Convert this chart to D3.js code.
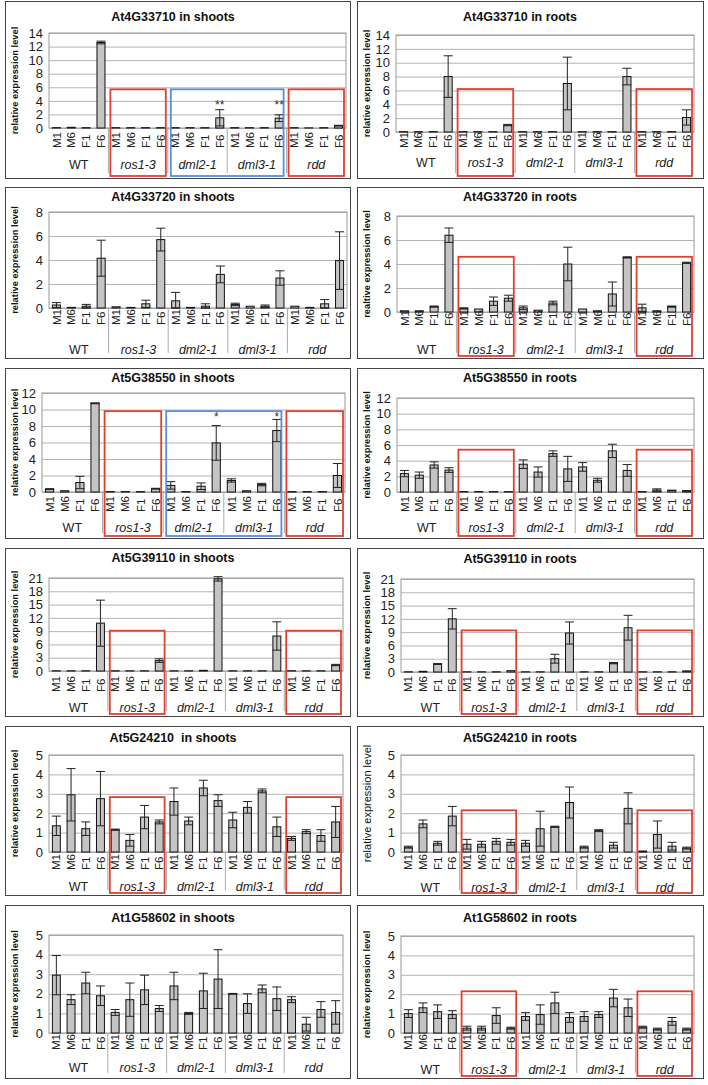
<!DOCTYPE html>
<html>
<head>
<meta charset="utf-8">
<script src="https://d3js.org/d3.v7.min.js"></script>
<style>
body { margin:0; background:#fff; }
svg { display:block; font-family:"Liberation Sans", Arial, sans-serif; }
text { white-space: pre; }
</style>
</head>
<body>
<svg id="chart" width="708" height="1085"></svg>
<script>
// CATEGORIES
var genotypes = ['WT', 'ros1-3', 'dml2-1', 'dml3-1', 'rdd'];
var tissues = ['M1', 'M6', 'F1', 'F6'];

var titles = ['At4G33710 in shoots', 'At4G33710 in roots', 'At4G33720 in shoots', 'At4G33720 in roots',
              'At5G38550 in shoots', 'At5G38550 in roots', 'At5G39110 in shoots', 'At5G39110 in roots',
              'At5G24210  in shoots', 'At5G24210 in roots', 'At1G58602 in shoots', 'At1G58602 in roots'];
var yLabels = ['relative expression level', 'relative expression level', 'relative expression level', 'realtive expression level',
               'relative expression level', 'relative expression level', 'relative expression level', 'relative expression level',
               'relative expression level', 'relative expression level', 'relative expression level', 'relative expression level'];

// y axis ticks
var yMax = [14, 14, 8, 8, 12, 12, 21, 21, 5, 5, 5, 5];
var yStep = [2, 2, 2, 2, 2, 2, 3, 3, 1, 1, 1, 1];

// means, order: WT M1 M6 F1 F6, ros1-3 ..., dml2-1 ..., dml3-1 ..., rdd ...
var at4g33710Shoots = [0.05,0.1,0.05,12.6, 0.05,0.05,0.05,0.05, 0.05,0.05,0.05,1.5, 0.05,0.05,0.05,1.45, 0.05,0.02,0.05,0.35];
var at4g33710ShootsErr = [0,0,0,0.2, 0,0,0,0, 0,0,0,1.2, 0,0,0,0.5, 0,0,0,0.05];
var at4g33710Roots = [0.05,0.05,0.05,8.0, 0.05,0.05,0.05,1.0, 0.05,0.05,0.05,7.0, 0.05,0.05,0.05,8.0, 0.05,0.05,0.05,2.1];
var at4g33710RootsErr = [0,0,0,3.0, 0,0,0,0.1, 0,0,0,3.8, 0,0,0,1.2, 0,0,0,1.1];
var at4g33720Shoots = [0.25,0.05,0.15,4.15, 0.1,0.05,0.35,5.7, 0.6,0.05,0.15,2.8, 0.3,0.15,0.15,2.5, 0.15,0.05,0.35,3.95];
var at4g33720ShootsErr = [0.2,0,0.15,1.5, 0,0,0.3,0.95, 0.7,0,0.2,0.7, 0.1,0,0.1,0.6, 0,0,0.35,2.4];
var at4g33720Roots = [0.1,0.1,0.45,6.4, 0.3,0.25,0.9,1.15, 0.35,0.15,0.75,4.0, 0.25,0.1,1.5,4.55, 0.35,0.1,0.45,4.1];
var at4g33720RootsErr = [0,0,0.05,0.6, 0.05,0,0.35,0.25, 0.15,0,0.15,1.4, 0,0,1.0,0.05, 0.3,0,0.05,0.05];
var at5g38550Shoots = [0.35,0.15,1.15,10.75, 0.05,0.05,0.05,0.4, 0.8,0.05,0.7,5.95, 1.4,0.15,0.9,7.45, 0.05,0.05,0.05,2.0];
var at5g38550ShootsErr = [0.05,0,0.75,0.05, 0,0,0,0.05, 0.45,0,0.4,2.1, 0.2,0,0.15,1.35, 0,0,0,1.45];
var at5g38550Roots = [2.35,2.15,3.45,2.8, 0.05,0.05,0.05,0.05, 3.55,2.55,4.9,2.95, 3.2,1.5,5.25,2.75, 0.05,0.25,0.2,0.15];
var at5g38550RootsErr = [0.4,0.4,0.4,0.3, 0,0,0,0, 0.55,0.65,0.35,1.6, 0.55,0.25,0.85,0.75, 0,0.15,0.03,0.03];
var at5g39110Shoots = [0.05,0.05,0.05,10.8, 0.05,0.05,0.05,2.35, 0.05,0.05,0.15,20.8, 0.05,0.05,0.05,7.9, 0.05,0.05,0.05,1.35];
var at5g39110ShootsErr = [0,0,0,5.2, 0,0,0,0.4, 0,0,0,0.5, 0,0,0,3.2, 0,0,0,0.15];
var at5g39110Roots = [0.05,0.15,1.8,12.0, 0.05,0.05,0.05,0.3, 0.05,0.05,3.0,8.8, 0.05,0.05,2.0,10.0, 0.05,0.05,0.05,0.25];
var at5g39110RootsErr = [0,0,0.1,2.3, 0,0,0,0, 0,0,1.0,2.5, 0,0,0.15,2.8, 0,0,0,0];
var at5g24210Shoots = [1.35,2.95,1.2,2.75, 1.15,0.6,1.8,1.55, 2.6,1.6,3.3,2.65, 1.65,2.3,3.15,1.3, 0.7,1.05,0.85,1.55];
var at5g24210ShootsErr = [0.5,1.35,0.35,1.4, 0.03,0.3,0.6,0.1, 0.7,0.2,0.4,0.3, 0.4,0.3,0.1,0.5, 0.1,0.1,0.3,0.8];
var at5g24210Roots = [0.25,1.45,0.45,1.85, 0.4,0.4,0.55,0.5, 0.45,1.2,1.3,2.55, 0.25,1.1,0.35,2.25, 0.05,0.9,0.3,0.2];
var at5g24210RootsErr = [0.05,0.2,0.1,0.5, 0.25,0.15,0.15,0.15, 0.15,0.9,0.03,0.8, 0.05,0.05,0.15,0.8, 0,0.7,0.2,0.05];
var at1g58602Shoots = [2.95,1.7,2.55,1.9, 1.05,1.7,2.2,1.25, 2.4,1.0,2.15,2.75, 2.0,1.5,2.25,1.75, 1.7,0.45,1.2,1.05];
var at1g58602ShootsErr = [1.0,0.25,0.55,0.5, 0.15,0.85,0.75,0.15, 0.7,0.05,0.9,1.5, 0.02,0.5,0.2,0.6, 0.15,0.35,0.4,0.6];
var at1g58602Roots = [1.0,1.3,1.1,0.95, 0.25,0.25,0.9,0.25, 0.85,0.95,1.55,0.8, 0.85,0.95,1.8,1.3, 0.3,0.2,0.6,0.2];
var at1g58602RootsErr = [0.2,0.25,0.35,0.2, 0.1,0.1,0.4,0.05, 0.2,0.5,0.55,0.25, 0.25,0.15,0.45,0.45, 0.05,0.05,0.2,0.05];

var means = [at4g33710Shoots, at4g33710Roots, at4g33720Shoots, at4g33720Roots, at5g38550Shoots, at5g38550Roots,
             at5g39110Shoots, at5g39110Roots, at5g24210Shoots, at5g24210Roots, at1g58602Shoots, at1g58602Roots];
var errs = [at4g33710ShootsErr, at4g33710RootsErr, at4g33720ShootsErr, at4g33720RootsErr, at5g38550ShootsErr, at5g38550RootsErr,
            at5g39110ShootsErr, at5g39110RootsErr, at5g24210ShootsErr, at5g24210RootsErr, at1g58602ShootsErr, at1g58602RootsErr];

// highlight boxes (top in data units); red = ros1-3 + rdd, blue = dml2-1 + dml3-1
var redBoxTop = [5.7, 6.2, null, 4.6, 9.8, 5.4, 9.1, 9.4, 2.83, 2.15, null, 2.15];
var blueBoxTop = [5.7, null, null, null, 9.8, null, null, null, null, null, null, null];

// significance marks
var starPanel = [0, 0, 4, 4];
var starGenotype = ['dml2-1', 'dml3-1', 'dml2-1', 'dml3-1'];
var starText = ['**', '**', '*', '*'];
var starLevel = [3.7, 3.7, 9.3, 9.3];

// PANEL LAYOUT (pixels)
var layout = [
    {x0:5,   y0:1,   x1:350, y1:178,  left:49,  right:346, top:33,  zero:128,  catY:148,  titleY:17,  groupY:165},
    {x0:357, y0:1,   x1:703, y1:178,  left:396, right:694, top:35,  zero:132,  catY:148,  titleY:17,  groupY:163},
    {x0:5,   y0:187, x1:350, y1:358,  left:49,  right:347, top:212, zero:308,  catY:325,  titleY:197, groupY:350},
    {x0:357, y0:187, x1:703, y1:358,  left:397, right:694, top:216, zero:312,  catY:326,  titleY:197, groupY:350},
    {x0:5,   y0:368, x1:350, y1:538,  left:42,  right:345, top:393, zero:492,  catY:512,  titleY:378, groupY:528},
    {x0:357, y0:368, x1:703, y1:538,  left:397, right:694, top:398, zero:492,  catY:512,  titleY:378, groupY:528},
    {x0:5,   y0:548, x1:350, y1:716,  left:49,  right:343, top:578, zero:671,  catY:692,  titleY:558, groupY:708},
    {x0:357, y0:548, x1:703, y1:716,  left:401, right:694, top:579, zero:672,  catY:692,  titleY:559, groupY:708},
    {x0:5,   y0:726, x1:350, y1:895,  left:49,  right:343, top:755, zero:852,  catY:870,  titleY:738, groupY:887},
    {x0:357, y0:726, x1:703, y1:895,  left:401, right:694, top:755, zero:852,  catY:870,  titleY:738, groupY:888},
    {x0:5,   y0:905, x1:350, y1:1078, left:49,  right:343, top:935, zero:1033, catY:1050, titleY:918, groupY:1068},
    {x0:357, y0:905, x1:703, y1:1078, left:401, right:694, top:936, zero:1033, catY:1050, titleY:918, groupY:1070}
];
var yLabelSize = [9.3, 9.3, 9.3, 9.3, 9.3, 9.3, 9.3, 9.3, 9.3, 11, 9.3, 9.3];
var yLabelWeight = ['bold', 'bold', 'bold', 'bold', 'bold', 'bold', 'bold', 'bold', 'bold', 'normal', 'bold', 'bold'];

var RED = '#e2402f';
var BLUE = '#5a8ddb';

var svg = d3.select('#chart');

layout.forEach(function(L, i){
    var g = svg.append('g');
    var slots = d3.range(genotypes.length * tissues.length);

    var x = d3.scaleBand().domain(slots).range([L.left, L.right]).paddingInner(0.46).paddingOuter(0.23);
    var gx = d3.scaleBand().domain(genotypes).range([L.left, L.right]);
    var y = d3.scaleLinear().domain([0, yMax[i]]).range([L.zero, L.top]);

    // panel frame
    g.append('rect')
        .attr('x', L.x0 + 0.5).attr('y', L.y0 + 0.5)
        .attr('width', L.x1 - L.x0).attr('height', L.y1 - L.y0)
        .attr('fill', 'none').attr('stroke', '#444').attr('stroke-width', 1);

    // gridlines + tick labels
    var yAxis = d3.axisLeft(y)
        .tickValues(d3.range(0, yMax[i] + yStep[i] / 2, yStep[i]))
        .tickFormat(d3.format('d'))
        .tickSize(-(L.right - L.left))
        .tickPadding(6);
    var ya = g.append('g').attr('transform', 'translate(' + L.left + ',0)').call(yAxis);
    ya.select('.domain').remove();
    ya.selectAll('line').attr('stroke', '#b4b4b4');
    ya.selectAll('text').attr('font-size', 13).attr('fill', '#222').attr('font-family', '"Liberation Sans", Arial, sans-serif');

    // plot area border
    g.append('rect')
        .attr('x', L.left).attr('y', L.top)
        .attr('width', L.right - L.left).attr('height', L.zero - L.top)
        .attr('fill', 'none').attr('stroke', '#999');

    // bars
    g.selectAll('.bar').data(slots).enter().append('rect')
        .attr('x', function(d){ return x(d); })
        .attr('y', function(d){ return y(means[i][d]); })
        .attr('width', x.bandwidth())
        .attr('height', function(d){ return L.zero - y(means[i][d]); })
        .attr('fill', '#c4c4c4')
        .attr('stroke', '#111')
        .attr('stroke-width', 1);

    // error bars
    var withErr = slots.filter(function(d){ return errs[i][d] > 0; });
    var eb = g.selectAll('.err').data(withErr).enter().append('g').attr('stroke', '#222').attr('stroke-width', 1);
    eb.append('line')
        .attr('x1', function(d){ return x(d) + x.bandwidth() / 2; })
        .attr('x2', function(d){ return x(d) + x.bandwidth() / 2; })
        .attr('y1', function(d){ return y(Math.max(0, means[i][d] - errs[i][d])); })
        .attr('y2', function(d){ return y(means[i][d] + errs[i][d]); });
    eb.append('line')
        .attr('x1', function(d){ return x(d) - 0.5; })
        .attr('x2', function(d){ return x(d) + x.bandwidth() + 0.5; })
        .attr('y1', function(d){ return y(means[i][d] + errs[i][d]); })
        .attr('y2', function(d){ return y(means[i][d] + errs[i][d]); });
    eb.append('line')
        .attr('x1', function(d){ return x(d) - 0.5; })
        .attr('x2', function(d){ return x(d) + x.bandwidth() + 0.5; })
        .attr('y1', function(d){ return y(Math.max(0, means[i][d] - errs[i][d])); })
        .attr('y2', function(d){ return y(Math.max(0, means[i][d] - errs[i][d])); });

    // category labels (rotated)
    g.selectAll('.cat').data(slots).enter().append('text')
        .attr('transform', function(d){ return 'translate(' + (x(d) + x.bandwidth() / 2) + ',' + L.catY + ') rotate(-90)'; })
        .attr('dy', '0.36em')
        .attr('text-anchor', 'start')
        .attr('font-size', 11.5)
        .attr('fill', '#222')
        .text(function(d){ return tissues[d % tissues.length]; });

    // group separators
    genotypes.slice(1).forEach(function(gn){
        g.append('line')
            .attr('x1', gx(gn)).attr('x2', gx(gn))
            .attr('y1', L.zero).attr('y2', L.y1 - 5)
            .attr('stroke', '#aaa');
    });

    // group labels
    g.selectAll('.grp').data(genotypes).enter().append('text')
        .attr('x', function(d){ return gx(d) + gx.bandwidth() / 2; })
        .attr('y', L.groupY)
        .attr('dy', '0.35em')
        .attr('text-anchor', 'middle')
        .attr('font-size', 12.5)
        .attr('font-style', function(d){ return d === 'WT' ? 'normal' : 'italic'; })
        .attr('fill', '#222')
        .text(function(d){ return d; });

    // highlight boxes
    if (redBoxTop[i] !== null) {
        ['ros1-3', 'rdd'].forEach(function(gn){
            g.append('rect')
                .attr('x', gx(gn) + 2).attr('y', y(redBoxTop[i]))
                .attr('width', gx.bandwidth() - 4).attr('height', L.y1 - 2 - y(redBoxTop[i]))
                .attr('fill', 'none').attr('stroke', RED).attr('stroke-width', 1.8);
        });
    }
    if (blueBoxTop[i] !== null) {
        g.append('rect')
            .attr('x', gx('dml2-1') + 3).attr('y', y(blueBoxTop[i]))
            .attr('width', gx.bandwidth() * 2 - 6).attr('height', L.y1 - 2 - y(blueBoxTop[i]))
            .attr('fill', 'none').attr('stroke', BLUE).attr('stroke-width', 1.8);
    }

    // stars
    starPanel.forEach(function(p, k){
        if (p !== i) return;
        var idx = genotypes.indexOf(starGenotype[k]) * tissues.length + 3;
        g.append('text')
            .attr('x', x(idx) + x.bandwidth() / 2)
            .attr('y', y(starLevel[k]))
            .attr('dy', '0.5em')
            .attr('text-anchor', 'middle')
            .attr('font-size', 12)
            .attr('fill', '#333')
            .text(starText[k]);
    });

    // title
    g.append('text')
        .attr('x', i % 2 === 0 ? 173 : 520)
        .attr('y', L.titleY)
        .attr('dy', '0.35em')
        .attr('text-anchor', 'middle')
        .attr('font-size', 12.5)
        .attr('font-weight', 'bold')
        .attr('fill', '#111')
        .text(titles[i]);

    // y axis title
    g.append('text')
        .attr('transform', 'translate(' + (L.x0 + 10) + ',' + ((L.top + L.zero) / 2) + ') rotate(-90)')
        .attr('dy', '0.35em')
        .attr('text-anchor', 'middle')
        .attr('font-size', yLabelSize[i])
        .attr('font-weight', yLabelWeight[i])
        .attr('fill', '#111')
        .text(yLabels[i]);
});
</script>
</body>
</html>
